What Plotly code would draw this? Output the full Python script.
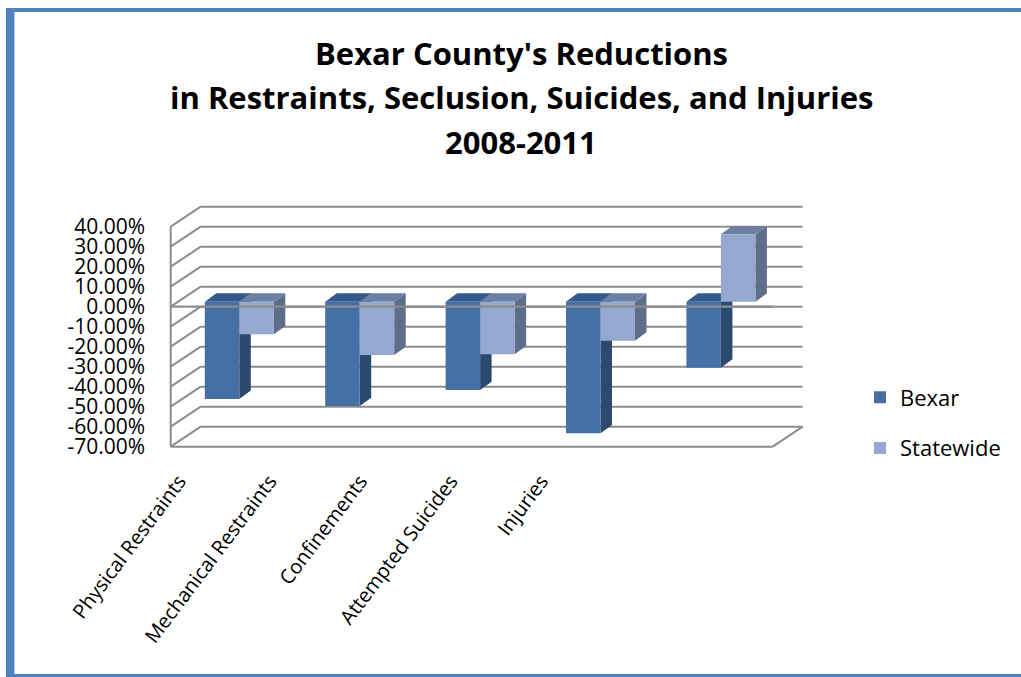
import plotly.graph_objects as go

# ---------------- data ----------------
categories = ["Physical Restraints", "Mechanical Restraints", "Confinements",
              "Attempted Suicides", "Injuries"]
series_names = ["Bexar", "Statewide"]
bexar = [-48.6, -52.2, -44.2, -65.8, -33.0]
statewide = [-16.3, -26.7, -26.3, -19.5, 33.7]
y_ticks = [40, 30, 20, 10, 0, -10, -20, -30, -40, -50, -60, -70]
y_tick_labels = ["40.00%", "30.00%", "20.00%", "10.00%", "0.00%", "-10.00%",
                 "-20.00%", "-30.00%", "-40.00%", "-50.00%", "-60.00%", "-70.00%"]
title_lines = ["Bexar County's Reductions",
               "in Restraints, Seclusion, Suicides, and Injuries",
               "2008-2011"]

# ---------------- styling / geometry ----------------
W, H = 1021, 677
PX_CAT = 120.4          # pixels per category
PX_UNIT = 2.0           # pixels per percentage point
DEPTH_X = 30 / PX_CAT   # depth of the 3-D box in category units
DEPTH_Y = 10            # depth of the 3-D box in value units
BAR_W = 34.5 / PX_CAT
BAR_FX = 8.4 / PX_CAT   # bars sit a bit behind the front plane
BAR_FY = 2.5
BAR_DX = 11.5 / PX_CAT  # bar depth
BAR_DY = 4.2

FRONT_LEFT_PX = 170.7
FRONT_ZERO_PX = 306.7

x_lo, x_hi = -0.52, len(categories) - 0.5 + DEPTH_X + 0.02
y_lo, y_hi = min(y_ticks) - 1, max(y_ticks) + DEPTH_Y + 1
x_left_px = FRONT_LEFT_PX + (x_lo + 0.5) * PX_CAT
x_right_px = x_left_px + (x_hi - x_lo) * PX_CAT
y_top_px = FRONT_ZERO_PX - y_hi * PX_UNIT
y_bot_px = FRONT_ZERO_PX - y_lo * PX_UNIT

colors = {
    "Bexar": {"front": "#4470A6", "top": "#36598B", "side": "#2C4A6E"},
    "Statewide": {"front": "#94A8D0", "top": "#6C7EA1", "side": "#5E6E8A"},
}
GRID = "#8C8C8C"
FONT = "Open Sans"

fig = go.Figure()
shapes = []

def line_shape(x0, y0, x1, y1):
    return dict(type="line", xref="x", yref="y", x0=x0, y0=y0, x1=x1, y1=y1,
                line=dict(color=GRID, width=2), layer="below")

# back wall + left wall gridlines
xmin_front = -0.5
xmax_front = len(categories) - 0.5
for v in y_ticks:
    shapes.append(line_shape(xmin_front + DEPTH_X, v + DEPTH_Y, xmax_front + DEPTH_X, v + DEPTH_Y))
    shapes.append(line_shape(xmin_front, v, xmin_front + DEPTH_X, v + DEPTH_Y))
shapes.append(line_shape(xmin_front, min(y_ticks), xmin_front, max(y_ticks)))
# floor front edge
shapes.append(line_shape(xmin_front, min(y_ticks), xmax_front, min(y_ticks)))
shapes.append(line_shape(xmax_front, min(y_ticks), xmax_front + DEPTH_X, min(y_ticks) + DEPTH_Y))

def poly(points, color):
    path = "M " + " L ".join(f"{px},{py}" for px, py in points) + " Z"
    return dict(type="path", xref="x", yref="y", path=path, fillcolor=color,
                line=dict(width=0), layer="below")

series_vals = [bexar, statewide]
for s, (name, vals) in enumerate(zip(series_names, series_vals)):
    xs = [i + BAR_FX + (s - 0.5) * BAR_W for i in range(len(categories))]
    for xc, v in zip(xs, vals):
        xl, xr = xc - BAR_W / 2, xc + BAR_W / 2
        top = BAR_FY + max(v, 0)
        bot = BAR_FY + min(v, 0)
        shapes.append(poly([(xr, bot), (xr, top), (xr + BAR_DX, top + BAR_DY),
                            (xr + BAR_DX, bot + BAR_DY)], colors[name]["side"]))
        shapes.append(poly([(xl, top), (xr, top), (xr + BAR_DX, top + BAR_DY),
                            (xl + BAR_DX, top + BAR_DY)], colors[name]["top"]))
    fig.add_trace(go.Bar(
        x=xs, y=vals, base=[BAR_FY] * len(vals), width=BAR_W, name=name,
        marker=dict(color=colors[name]["front"], line=dict(width=0)),
        legendgroup=name, hoverinfo="skip"))

# zero line drawn over the bars
fig.add_trace(go.Scatter(x=[xmin_front, xmax_front], y=[0, 0], mode="lines",
                         line=dict(color=GRID, width=2.3), showlegend=False,
                         hoverinfo="skip"))

# frame
BLUE = "#4F81BD"
shapes += [
    dict(type="rect", xref="paper", yref="paper", x0=6 / W, x1=14 / W, y0=0, y1=1 - 8 / H,
         fillcolor=BLUE, line=dict(width=0), layer="above"),
    dict(type="rect", xref="paper", yref="paper", x0=14 / W, x1=15 / W, y0=0, y1=1 - 12 / H,
         fillcolor="#B9CCE4", line=dict(width=0), layer="above"),
    dict(type="rect", xref="paper", yref="paper", x0=6 / W, x1=1, y0=1 - 12 / H, y1=1 - 8 / H,
         fillcolor=BLUE, line=dict(width=0), layer="above"),
    dict(type="rect", xref="paper", yref="paper", x0=6 / W, x1=1, y0=0, y1=3 / H,
         fillcolor=BLUE, line=dict(width=0), layer="above"),
]

annotations = []
for k, (txt, ypx) in enumerate(zip(title_lines, [53, 97, 142])):
    annotations.append(dict(text=txt, xref="paper", yref="paper", x=521 / W, y=1 - ypx / H,
                            xanchor="center", yanchor="middle", showarrow=False,
                            font=dict(family=FONT, size=31, color="black", weight="bold")))

label_ticks = [-0.43 + 0.752 * i for i in range(len(categories))]

fig.update_layout(
    width=W, height=H,
    margin=dict(l=0, r=0, t=0, b=0),
    paper_bgcolor="white", plot_bgcolor="rgba(0,0,0,0)",
    barmode="overlay",
    shapes=shapes,
    annotations=annotations,
    showlegend=True,
    legend=dict(x=860 / W, y=1 - 423 / H, xanchor="left", yanchor="middle",
                font=dict(family=FONT, size=22, color="black"),
                tracegroupgap=19, traceorder="grouped", bgcolor="rgba(0,0,0,0)"),
    xaxis=dict(range=[x_lo, x_hi], domain=[x_left_px / W, x_right_px / W],
               showgrid=False, zeroline=False, showline=False,
               tickmode="array", tickvals=label_ticks, ticktext=categories,
               tickangle=-53, ticks="outside", ticklen=12, tickcolor="rgba(0,0,0,0)",
               tickfont=dict(family=FONT, size=20, color="black"), automargin=False,
               fixedrange=True),
    yaxis=dict(range=[y_lo, y_hi], domain=[1 - y_bot_px / H, 1 - y_top_px / H],
               showgrid=False, zeroline=False, showline=False,
               tickmode="array", tickvals=y_ticks, ticktext=y_tick_labels,
               ticks="outside", ticklen=18, tickcolor="rgba(0,0,0,0)",
               tickfont=dict(family=FONT, size=21, color="black"), automargin=False,
               fixedrange=True),
)

fig.write_html("out.html", post_script="document.body.style.margin='0';",
               config={"displayModeBar": False})
